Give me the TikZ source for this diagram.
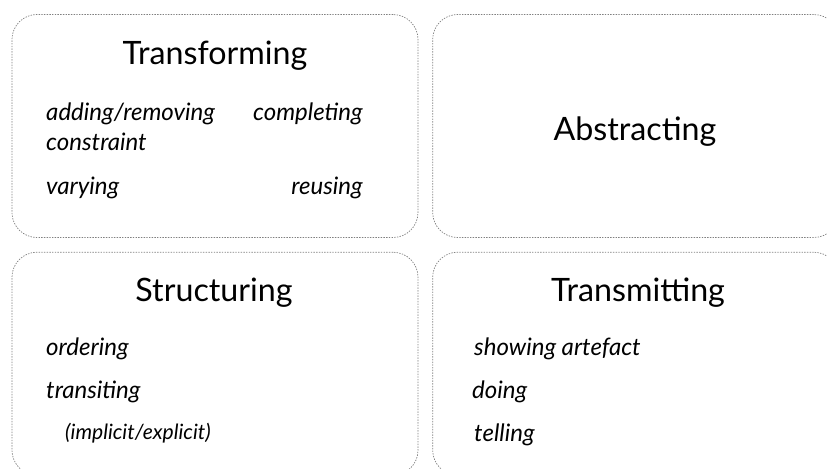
\documentclass[tikz,border=0pt]{standalone}
\usepackage{fontspec}
\setmainfont{Lato}
\usetikzlibrary{positioning}

\begin{document}
\begin{tikzpicture}[x=0.03cm,y=-0.03cm,node distance=0.63cm,
		card/.style={draw=gray,line width=0.6pt,dash pattern=on 1.2pt off 1.1pt,
			rounded corners=0.75cm,minimum width=12.18cm,minimum height=6.69cm},
		heading/.style={font=\fontsize{27.5}{32}\selectfont,inner sep=0pt},
		item/.style={font=\fontsize{20.5}{24}\selectfont\itshape,inner sep=0pt,
			text height=0.5cm,text depth=0.15cm},
		small item/.style={item,font=\fontsize{18}{21}\selectfont\itshape}]

		\useasboundingbox (0,0) rectangle (827,468);
		\clip (0,0) rectangle (827,468);

		% the four cards
		\node[card] (transforming card) at (215,126) {};
		\node[card] (abstracting card) [right=0.42cm of transforming card] {};
		\node[card] (structuring card) [below=0.42cm of transforming card] {};
		\node[card] (transmitting card) [right=0.42cm of structuring card] {};

		% transforming
		\node[heading,anchor=base] (transforming) at (215,64) {Transforming};
		\node[item,anchor=base west] (adding) at (46,120) {adding/removing};
		\node[item,below=0.25cm of adding.south west,anchor=north west] (constraint) {constraint};
		\node[item,anchor=base east] (completing) at (363,120) {completing};
		\node[item,anchor=base west] (varying) at (46,194) {varying};
		\node[item,anchor=base east] (reusing) at (363,194) {reusing};

		% abstracting
		\node[heading,anchor=base] (abstracting) at (635,140) {Abstracting};

		% structuring
		\node[heading,anchor=base] (structuring) at (214,301) {Structuring};
		\node[item,anchor=base west] (ordering) at (46,355) {ordering};
		\node[item,below=of ordering.south west,anchor=north west] (transiting) {transiting};
		\node[small item,below=0.58cm of transiting.south west,anchor=north west,xshift=0.57cm] (explicit) {(implicit/explicit)};

		% transmitting
		\node[heading,anchor=base] (transmitting) at (638,301) {Transmitting};
		\node[item,anchor=base west] (showing) at (474,355) {showing artefact};
		\node[item,below=of showing.south west,anchor=north west,xshift=-0.06cm] (doing) {doing};
		\node[item,below=of doing.south west,anchor=north west,xshift=0.06cm] (telling) {telling};
\end{tikzpicture}
\end{document}
